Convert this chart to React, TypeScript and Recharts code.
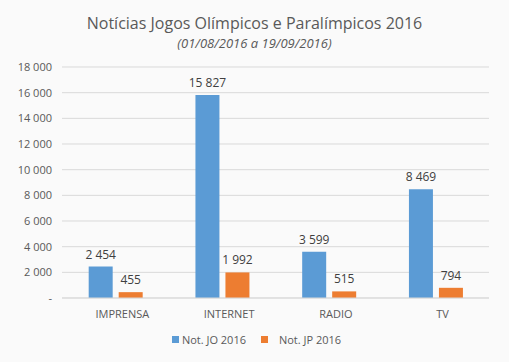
import { BarChart, Bar, XAxis, YAxis, CartesianGrid, Legend, LabelList } from 'recharts';

const categories = ['IMPRENSA', 'INTERNET', 'RADIO', 'TV'];
const noticiasJO = [2454, 15827, 3599, 8469];
const noticiasJP = [455, 1992, 515, 794];
const yTicks = [0, 2000, 4000, 6000, 8000, 10000, 12000, 14000, 16000, 18000];

const SERIES = [
  { key: 'jo', name: 'Not. JO 2016', color: '#5b9bd5' },
  { key: 'jp', name: 'Not. JP 2016', color: '#ed7d31' },
];

const FONT = '"Open Sans", "Liberation Sans", sans-serif';

const data = categories.map((cat, i) => ({ cat, jo: noticiasJO[i], jp: noticiasJP[i] }));

// non-breaking space as thousands separator so labels don't wrap
function fmt(v: number | string): string {
  const n = Number(v);
  if (n === 0) return '-';
  return String(n).replace(/\B(?=(\d{3})+(?!\d))/g, '\u00a0');
}

function LegendContent() {
  return (
    <div
      style={{
        display: 'flex',
        justifyContent: 'center',
        fontFamily: FONT,
        fontSize: 11,
        color: '#595959',
        paddingLeft: 24,
        marginTop: 4,
      }}
    >
      {SERIES.map((s, i) => (
        <div key={s.key} style={{ display: 'flex', alignItems: 'center', marginLeft: i ? 15 : 0 }}>
          <span style={{ width: 7, height: 7, background: s.color, display: 'inline-block', marginRight: i ? 11 : 3 }} />
          <span>{s.name}</span>
        </div>
      ))}
    </div>
  );
}

export default function App() {
  return (
    <div style={{ position: 'fixed', top: 0, left: 0, width: 509, height: 362, background: '#fafafa' }}>
      <div
        style={{
          position: 'absolute',
          top: 12,
          width: 509,
          textAlign: 'center',
          fontFamily: FONT,
          color: '#595959',
        }}
      >
        <div style={{ fontSize: 16, lineHeight: '22px' }}>Notícias Jogos Olímpicos e Paralímpicos 2016</div>
        <div style={{ fontSize: 13, fontStyle: 'italic', lineHeight: '19px' }}>(01/08/2016 a 19/09/2016)</div>
      </div>
      <BarChart
        width={509}
        height={362}
        data={data}
        margin={{ top: 67, right: 20, left: 0, bottom: 8 }}
        barCategoryGap="25%"
        barGap={6}
        style={{ position: 'absolute', top: 0, left: 0 }}
      >
        <CartesianGrid vertical={false} stroke="#d9d9d9" />
        <XAxis
          dataKey="cat"
          height={30}
          tickLine={false}
          axisLine={{ stroke: '#d9d9d9' }}
          tick={{ fill: '#595959', fontSize: 11, fontFamily: FONT, dx: 7 }}
          tickMargin={6}
        />
        <YAxis
          width={62}
          domain={[0, 18000]}
          ticks={yTicks}
          interval={0}
          axisLine={false}
          tickLine={false}
          tickFormatter={fmt}
          tick={{ fill: '#595959', fontSize: 11, fontFamily: FONT }}
          tickMargin={4}
        />
        <Legend verticalAlign="bottom" height={26} content={<LegendContent />} />
        {SERIES.map((s) => (
          <Bar key={s.key} dataKey={s.key} name={s.name} fill={s.color} isAnimationActive={false}>
            <LabelList
              dataKey={s.key}
              position="top"
              offset={8}
              formatter={fmt}
              style={{ fill: '#404040', fontSize: 12, fontFamily: FONT }}
            />
          </Bar>
        ))}
      </BarChart>
    </div>
  );
}
